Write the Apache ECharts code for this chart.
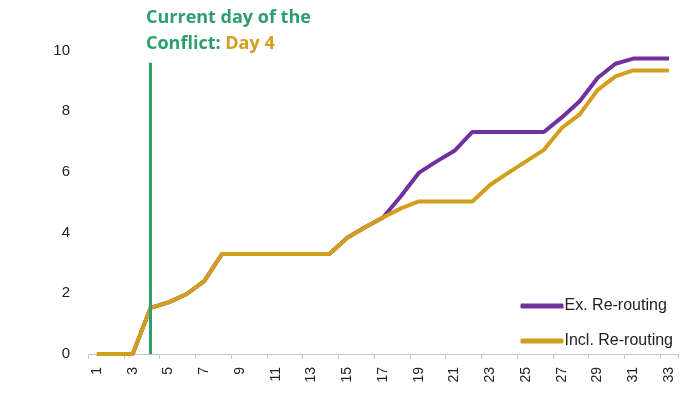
<!DOCTYPE html>
<html><head><meta charset="utf-8">
<script src="https://cdn.jsdelivr.net/npm/echarts@6/dist/echarts.min.js"></script>
<style>html,body{margin:0;padding:0;background:#fff}#c{width:700px;height:394px}</style>
</head><body><div id="c"></div>
<script>
const days = Array.from({length:33},(_,i)=>String(i+1));
const exRerouting = [0,0,0,1.52,1.7,1.97,2.4,3.3,3.3,3.3,3.3,3.3,3.3,3.3,3.83,4.18,4.5,5.2,5.97,6.35,6.7,7.32,7.32,7.32,7.32,7.32,7.8,8.33,9.1,9.57,9.74,9.74,9.74];
const inclRerouting = [0,0,0,1.52,1.7,1.97,2.4,3.3,3.3,3.3,3.3,3.3,3.3,3.3,3.83,4.18,4.5,4.8,5.03,5.03,5.03,5.03,5.58,5.97,6.35,6.73,7.45,7.9,8.7,9.15,9.35,9.35,9.35];
const yTicks = [0,2,4,6,8,10,12];
const currentDay = '4';
const purple = '#7030a0', gold = '#d19f1c', green = '#2e9e6b';
const chart = echarts.init(document.getElementById('c'));
chart.setOption({
  animation:false,
  grid:{left:88,right:22,top:-10,bottom:40,outerBoundsMode:'none',containLabel:false},
  legend:{
    orient:'vertical', right:22, top:293, itemGap:19,
    itemWidth:43, itemHeight:5, icon:'roundRect',
    textStyle:{fontFamily:'Liberation Sans, Arial',fontSize:16,color:'#222',padding:[0,0,0,-4]},
    data:['Ex. Re-routing','Incl. Re-routing']
  },
  xAxis:{
    type:'category', data:days, boundaryGap:true,
    axisLine:{lineStyle:{color:'#c8c8c8'}},
    axisTick:{show:true,lineStyle:{color:'#c8c8c8'},length:5},
    axisLabel:{interval:1,rotate:90,fontFamily:'Liberation Sans, Arial',fontSize:14,color:'#222',margin:13}
  },
  yAxis:{
    type:'value', min:yTicks[0], max:yTicks[yTicks.length-1], interval:2,
    splitLine:{show:false}, axisLine:{show:false}, axisTick:{show:false},
    axisLabel:{fontFamily:'Liberation Sans, Arial',fontSize:15,color:'#222',margin:18}
  },
  graphic:[{
    type:'text', left:146, top:9,
    style:{
      rich:{g:{fill:green,fontFamily:'Open Sans',fontWeight:'bold',fontSize:18,lineHeight:26},
            y:{fill:gold,fontFamily:'Open Sans',fontWeight:'bold',fontSize:18,lineHeight:26}},
      text:'{g|Current day of the}\n{g|Conflict: }{y|Day 4}'
    }
  }],
  series:[
    {name:'Ex. Re-routing',type:'line',data:exRerouting,symbol:'none',
     lineStyle:{color:purple,width:4},itemStyle:{color:purple},z:2},
    {name:'Incl. Re-routing',type:'line',data:inclRerouting,symbol:'none',
     lineStyle:{color:gold,width:4},itemStyle:{color:gold},z:3,
     markLine:{silent:true,symbol:'none',label:{show:false},
       lineStyle:{color:green,width:3,type:'solid'},
       data:[[{coord:[currentDay,0]},{coord:[currentDay,9.6]}]]}}
  ]
});
</script></body></html>
